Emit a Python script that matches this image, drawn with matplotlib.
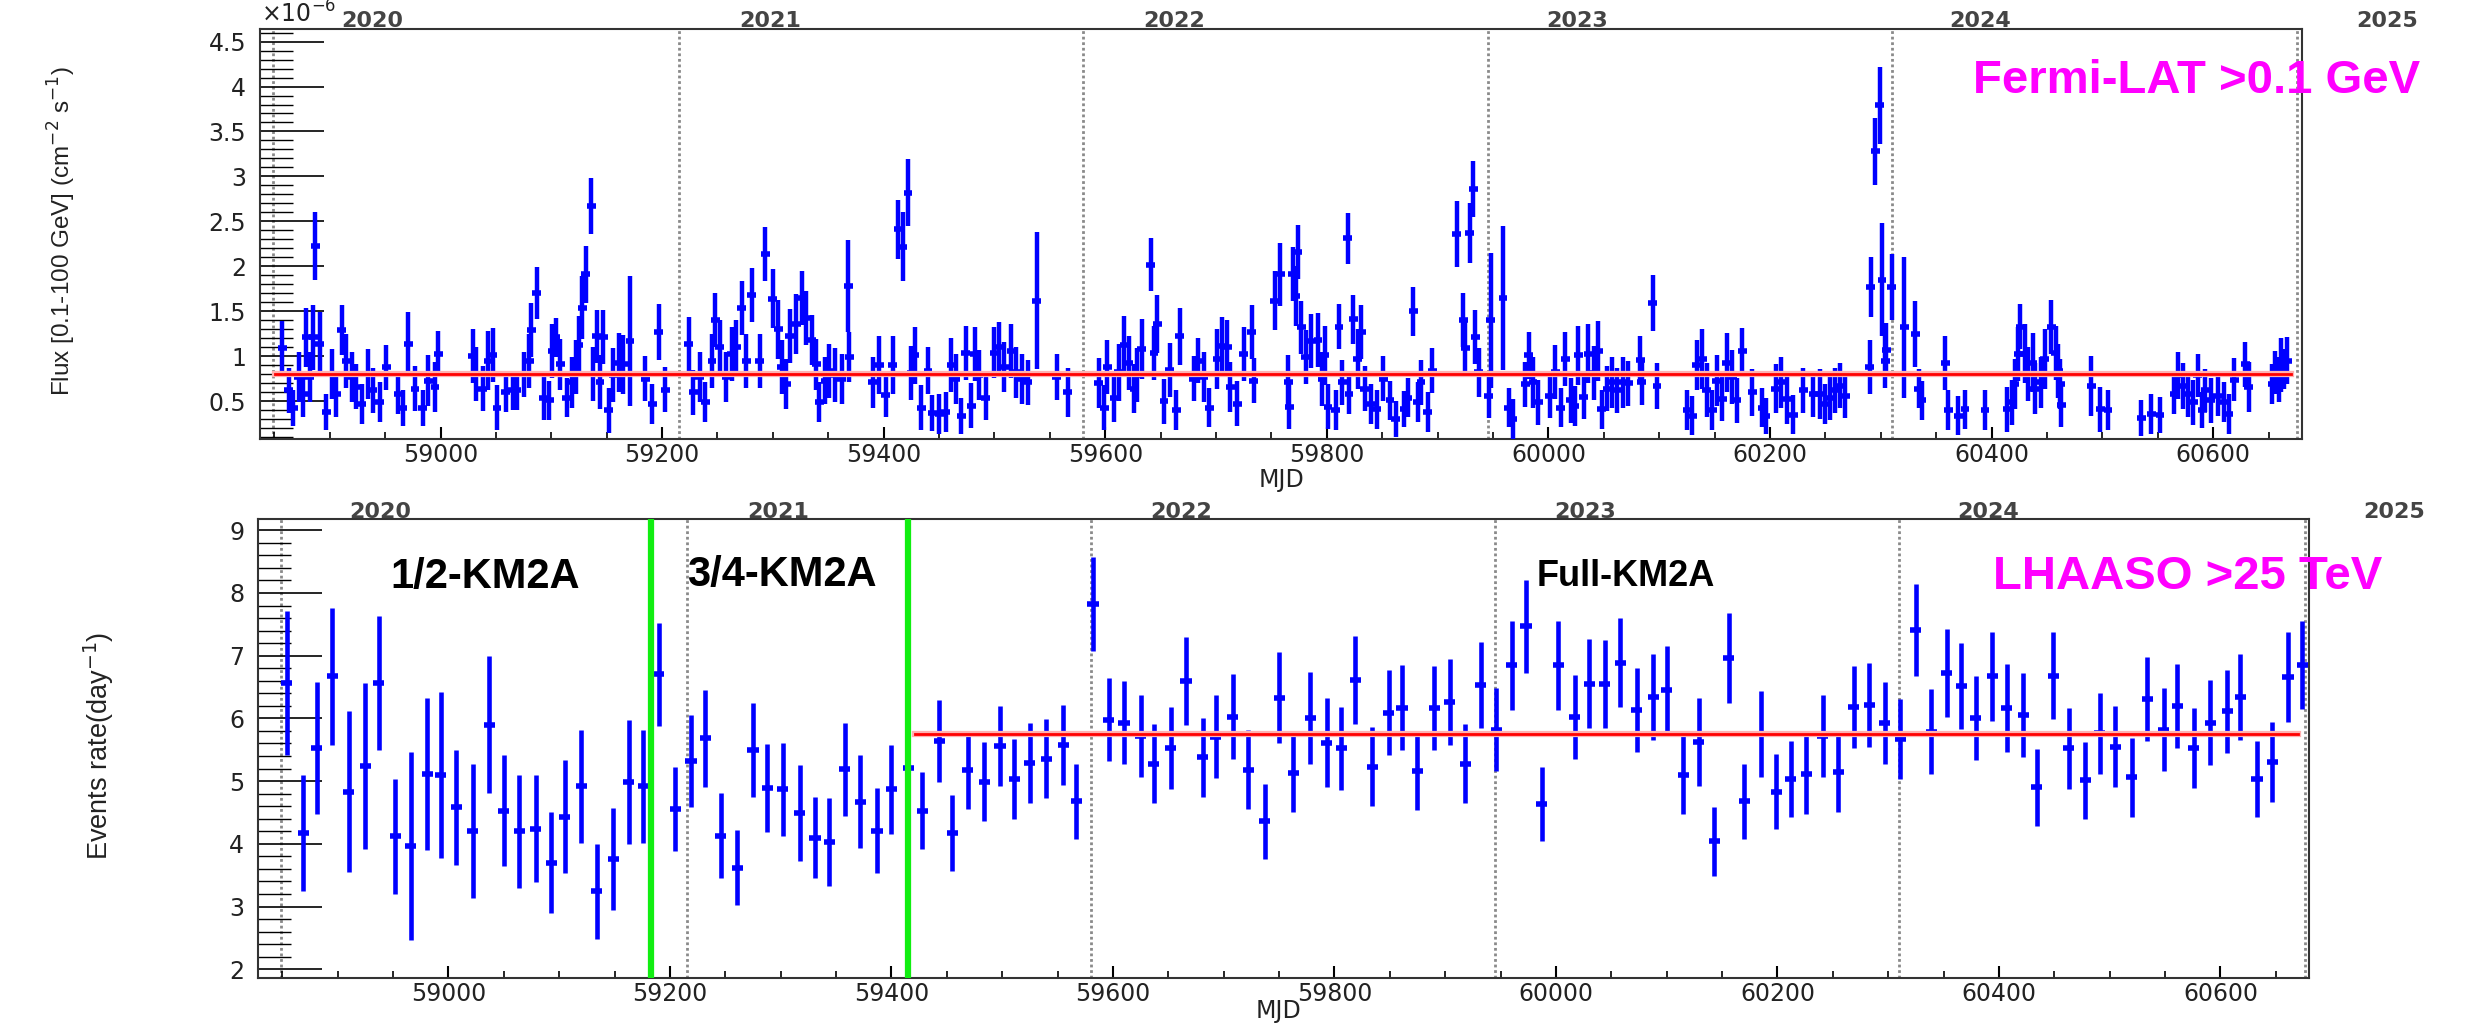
import matplotlib
matplotlib.use('Agg')
import matplotlib.pyplot as plt
from matplotlib.ticker import MultipleLocator, FuncFormatter

# ---- Fermi-LAT weekly light curve (flux in 1e-6 cm^-2 s^-1) ----
fermi_mjd = [58857, 58863, 58867, 58872, 58876, 58879, 58882, 58885, 58887, 58891,
             58897, 58902, 58906, 58911, 58915, 58920, 58924, 58929, 58935, 58939,
             58945, 58951, 58962, 58966, 58971, 58977, 58984, 58989, 58995, 58998,
             59029, 59032, 59038, 59043, 59047, 59051, 59059, 59065, 59069, 59075,
             59080, 59082, 59087, 59093, 59098, 59101, 59104, 59108, 59114, 59119,
             59122, 59125, 59128, 59131, 59136, 59138, 59141, 59144, 59147, 59152,
             59156, 59161, 59165, 59171, 59185, 59191, 59197, 59203, 59224, 59228,
             59234, 59239, 59245, 59248, 59252, 59258, 59263, 59267, 59272, 59276,
             59281, 59288, 59293, 59300, 59305, 59308, 59312, 59315, 59321, 59326,
             59330, 59335, 59339, 59342, 59347, 59351, 59356, 59362, 59368, 59369,
             59390, 59396, 59402, 59408, 59413, 59417, 59422, 59425, 59428, 59434,
             59440, 59444, 59450, 59456, 59461, 59465, 59470, 59474, 59479, 59482,
             59486, 59492, 59500, 59504, 59509, 59515, 59519, 59525, 59530, 59538,
             59556, 59566, 59594, 59599, 59602, 59608, 59612, 59617, 59621, 59626,
             59629, 59633, 59641, 59644, 59647, 59653, 59658, 59664, 59667, 59680,
             59684, 59689, 59694, 59701, 59705, 59710, 59713, 59719, 59725, 59732,
             59734, 59753, 59758, 59765, 59766, 59769, 59772, 59774, 59777, 59781,
             59786, 59792, 59796, 59798, 59801, 59808, 59811, 59814, 59819, 59820,
             59824, 59828, 59831, 59834, 59840, 59845, 59851, 59857, 59862, 59870,
             59873, 59878, 59882, 59885, 59891, 59895, 59917, 59923, 59925, 59929,
             59932, 59934, 59937, 59946, 59948, 59959, 59964, 59968, 59979, 59982,
             59986, 59991, 60001, 60006, 60011, 60015, 60020, 60024, 60027, 60032,
             60036, 60041, 60045, 60048, 60053, 60057, 60062, 60067, 60072, 60083,
             60084, 60094, 60098, 60125, 60130, 60134, 60139, 60143, 60148, 60152,
             60157, 60161, 60166, 60170, 60175, 60184, 60193, 60196, 60205, 60210,
             60215, 60221, 60230, 60239, 60245, 60250, 60254, 60259, 60263, 60268,
             60290, 60291, 60295, 60299, 60301, 60304, 60305, 60310, 60321, 60331,
             60334, 60337, 60358, 60361, 60370, 60376, 60394, 60414, 60418, 60421,
             60424, 60426, 60430, 60433, 60437, 60439, 60445, 60448, 60454, 60458,
             60460, 60462, 60463, 60490, 60498, 60505, 60535, 60544, 60552, 60565,
             60568, 60573, 60577, 60582, 60586, 60590, 60593, 60598, 60604, 60610,
             60614, 60619, 60629, 60632, 60653, 60656, 60659, 60661, 60664, 60667]
fermi_flux = [1.09, 0.62, 0.43, 0.77, 0.58, 1.21, 0.77, 1.21, 2.23, 1.14,
              0.38, 0.80, 0.58, 1.29, 0.95, 0.77, 0.66, 0.47, 0.80, 0.62,
              0.49, 0.88, 0.58, 0.43, 1.14, 0.64, 0.43, 0.73, 0.66, 1.03,
              1.00, 0.80, 0.64, 0.95, 1.01, 0.43, 0.60, 0.62, 0.62, 0.80,
              0.95, 1.29, 1.70, 0.54, 0.51, 1.06, 1.21, 0.91, 0.54, 0.71,
              0.88, 1.12, 1.54, 1.91, 2.67, 0.80, 1.22, 0.71, 1.21, 0.40,
              0.79, 0.93, 0.91, 1.17, 0.75, 0.47, 1.27, 0.63, 1.14, 0.60,
              0.77, 0.49, 0.95, 1.40, 1.10, 0.77, 1.03, 1.10, 1.54, 0.95,
              1.68, 0.95, 2.14, 1.64, 1.30, 0.88, 0.69, 1.23, 1.36, 1.65,
              1.43, 1.18, 0.91, 0.49, 0.73, 0.84, 0.79, 0.75, 1.78, 0.99,
              0.71, 0.90, 0.57, 0.90, 2.41, 2.22, 2.82, 0.81, 1.01, 0.43,
              0.84, 0.37, 0.36, 0.38, 0.90, 0.75, 0.34, 1.04, 0.45, 1.03,
              0.79, 0.54, 1.04, 1.10, 0.88, 1.06, 0.82, 0.75, 0.71, 1.62,
              0.77, 0.60, 0.70, 0.43, 0.88, 0.54, 0.82, 1.12, 0.93, 0.64,
              0.79, 1.08, 2.02, 1.04, 1.36, 0.50, 0.85, 0.40, 1.22, 0.75,
              0.95, 0.77, 0.43, 0.97, 1.11, 1.10, 0.66, 0.47, 1.03, 1.27,
              0.73, 1.62, 1.91, 0.71, 0.44, 1.91, 1.67, 2.16, 1.32, 0.99,
              1.17, 1.18, 0.75, 1.01, 0.44, 0.40, 1.33, 0.71, 2.31, 0.58,
              1.41, 0.97, 1.27, 0.64, 0.47, 0.41, 0.75, 0.51, 0.30, 0.41,
              0.54, 1.50, 0.49, 0.71, 0.38, 0.84, 2.36, 1.40, 1.09, 2.37,
              2.86, 1.21, 0.82, 0.56, 1.40, 1.65, 0.43, 0.30, 0.69, 1.01,
              0.71, 0.49, 0.56, 0.82, 0.43, 0.97, 0.51, 0.45, 1.01, 0.55,
              1.03, 0.81, 1.06, 0.41, 0.64, 0.71, 0.62, 0.71, 0.70, 0.96,
              0.71, 1.59, 0.67, 0.40, 0.34, 0.90, 0.97, 0.62, 0.40, 0.73,
              0.53, 0.93, 0.77, 0.51, 1.06, 0.60, 0.43, 0.34, 0.64, 0.71,
              0.53, 0.35, 0.62, 0.58, 0.58, 0.47, 0.54, 0.62, 0.67, 0.56,
              0.88, 1.77, 3.28, 3.79, 1.85, 0.95, 1.07, 1.77, 1.32, 1.25,
              0.64, 0.51, 0.93, 0.40, 0.34, 0.41, 0.40, 0.41, 0.49, 0.69,
              1.03, 1.33, 1.03, 0.80, 0.93, 0.64, 0.71, 0.97, 1.33, 1.04,
              0.84, 0.69, 0.46, 0.67, 0.41, 0.40, 0.31, 0.36, 0.35, 0.58,
              0.79, 0.67, 0.58, 0.49, 0.79, 0.40, 0.62, 0.51, 0.56, 0.49,
              0.36, 0.74, 0.91, 0.66, 0.69, 0.82, 0.74, 0.90, 0.86, 0.95]
fermi_err = [0.30, 0.25, 0.20, 0.28, 0.25, 0.33, 0.28, 0.36, 0.38, 0.35,
             0.20, 0.28, 0.25, 0.28, 0.30, 0.28, 0.25, 0.22, 0.28, 0.25,
             0.22, 0.25, 0.22, 0.20, 0.35, 0.25, 0.20, 0.28, 0.28, 0.25,
             0.30, 0.30, 0.25, 0.33, 0.30, 0.25, 0.22, 0.22, 0.22, 0.25,
             0.30, 0.30, 0.29, 0.25, 0.22, 0.30, 0.22, 0.28, 0.22, 0.28,
             0.30, 0.33, 0.35, 0.32, 0.31, 0.30, 0.30, 0.30, 0.30, 0.25,
             0.30, 0.33, 0.33, 0.72, 0.25, 0.22, 0.31, 0.25, 0.30, 0.25,
             0.28, 0.22, 0.30, 0.30, 0.30, 0.28, 0.30, 0.30, 0.30, 0.30,
             0.30, 0.30, 0.30, 0.33, 0.33, 0.30, 0.28, 0.30, 0.33, 0.30,
             0.30, 0.28, 0.28, 0.22, 0.26, 0.30, 0.30, 0.28, 0.51, 0.28,
             0.28, 0.32, 0.25, 0.32, 0.33, 0.38, 0.37, 0.30, 0.32, 0.25,
             0.26, 0.20, 0.22, 0.22, 0.30, 0.28, 0.20, 0.30, 0.25, 0.30,
             0.28, 0.25, 0.28, 0.28, 0.28, 0.30, 0.28, 0.28, 0.25, 0.76,
             0.26, 0.27, 0.28, 0.25, 0.30, 0.27, 0.32, 0.33, 0.30, 0.27,
             0.30, 0.33, 0.29, 0.30, 0.32, 0.25, 0.30, 0.22, 0.32, 0.25,
             0.25, 0.28, 0.22, 0.33, 0.33, 0.30, 0.28, 0.25, 0.30, 0.30,
             0.25, 0.33, 0.35, 0.30, 0.25, 0.30, 0.33, 0.30, 0.30, 0.30,
             0.30, 0.30, 0.30, 0.33, 0.25, 0.22, 0.25, 0.25, 0.28, 0.22,
             0.27, 0.33, 0.30, 0.25, 0.22, 0.22, 0.25, 0.22, 0.20, 0.20,
             0.22, 0.27, 0.22, 0.25, 0.22, 0.25, 0.37, 0.30, 0.30, 0.33,
             0.31, 0.30, 0.27, 0.25, 0.75, 0.80, 0.22, 0.22, 0.25, 0.26,
             0.28, 0.25, 0.25, 0.30, 0.22, 0.30, 0.25, 0.22, 0.33, 0.25,
             0.33, 0.30, 0.33, 0.22, 0.25, 0.28, 0.25, 0.28, 0.25, 0.27,
             0.25, 0.31, 0.26, 0.22, 0.22, 0.28, 0.33, 0.30, 0.22, 0.28,
             0.25, 0.33, 0.30, 0.25, 0.25, 0.26, 0.22, 0.20, 0.27, 0.28,
             0.28, 0.22, 0.25, 0.25, 0.28, 0.22, 0.25, 0.25, 0.25, 0.25,
             0.30, 0.33, 0.37, 0.43, 0.63, 0.30, 0.30, 0.37, 0.78, 0.37,
             0.22, 0.22, 0.30, 0.22, 0.22, 0.22, 0.22, 0.25, 0.25, 0.28,
             0.30, 0.25, 0.33, 0.30, 0.33, 0.28, 0.28, 0.33, 0.30, 0.30,
             0.30, 0.28, 0.25, 0.33, 0.25, 0.22, 0.20, 0.22, 0.20, 0.22,
             0.26, 0.26, 0.25, 0.25, 0.24, 0.20, 0.24, 0.25, 0.22, 0.22,
             0.22, 0.24, 0.25, 0.28, 0.22, 0.24, 0.25, 0.30, 0.22, 0.26]
fermi_mean = 0.80
fermi_fit_range = [58851, 60670]

# ---- LHAASO KM2A two-week light curve (events/day) ----
km2a_mjd = [58854, 58869, 58881, 58895, 58910, 58925, 58937, 58952, 58966, 58981,
            58993, 59007, 59022, 59037, 59050, 59064, 59079, 59093, 59105, 59120,
            59134, 59149, 59163, 59176, 59190, 59205, 59219, 59232, 59246, 59261,
            59275, 59288, 59302, 59317, 59331, 59344, 59358, 59372, 59387, 59400,
            59415, 59428, 59443, 59455, 59469, 59484, 59498, 59511, 59525, 59540,
            59555, 59567, 59582, 59596, 59610, 59625, 59637, 59652, 59666, 59681,
            59693, 59708, 59722, 59737, 59750, 59763, 59778, 59793, 59806, 59819,
            59834, 59849, 59861, 59875, 59890, 59904, 59918, 59932, 59946, 59960,
            59973, 59987, 60002, 60017, 60030, 60044, 60058, 60073, 60088, 60100,
            60115, 60129, 60143, 60156, 60170, 60185, 60199, 60212, 60226, 60241,
            60255, 60269, 60283, 60297, 60311, 60325, 60339, 60353, 60366, 60379,
            60394, 60407, 60422, 60434, 60449, 60463, 60478, 60491, 60505, 60520,
            60534, 60549, 60561, 60576, 60591, 60606, 60618, 60633, 60647, 60661,
            60674]
km2a_rate = [6.57, 4.17, 5.53, 6.67, 4.83, 5.24, 6.57, 4.12, 3.97, 5.11,
             5.10, 4.58, 4.20, 5.90, 4.53, 4.20, 4.24, 3.70, 4.43, 4.92,
             3.24, 3.76, 4.99, 4.92, 6.70, 4.56, 5.32, 5.68, 4.13, 3.62,
             5.49, 4.89, 4.87, 4.49, 4.10, 4.03, 5.19, 4.67, 4.21, 4.87,
             5.21, 4.53, 5.64, 4.17, 5.18, 4.99, 5.56, 5.03, 5.29, 5.36,
             5.58, 4.68, 7.82, 5.98, 5.93, 5.72, 5.28, 5.53, 6.59, 5.38,
             5.71, 6.03, 5.18, 4.36, 6.33, 5.13, 6.01, 5.61, 5.52, 6.61,
             5.23, 6.09, 6.17, 5.16, 6.17, 6.26, 5.28, 6.53, 5.82, 6.85,
             7.47, 4.64, 6.85, 6.02, 6.55, 6.55, 6.89, 6.14, 6.34, 6.45,
             5.10, 5.62, 4.04, 6.96, 4.68, 5.75, 4.83, 5.03, 5.11, 5.72,
             5.15, 6.18, 6.21, 5.93, 5.67, 7.41, 5.79, 6.72, 6.52, 6.00,
             6.67, 6.17, 6.06, 4.90, 6.68, 5.52, 5.01, 5.76, 5.55, 5.06,
             6.31, 5.82, 6.20, 5.53, 5.93, 6.11, 6.34, 5.03, 5.31, 6.66,
             6.85]
km2a_err = [1.15, 0.93, 1.05, 1.09, 1.28, 1.32, 1.07, 0.92, 1.50, 1.21,
            1.32, 0.92, 1.07, 1.09, 0.88, 0.90, 0.85, 0.80, 0.90, 0.90,
            0.76, 0.81, 0.99, 0.90, 0.82, 0.67, 0.73, 0.78, 0.68, 0.60,
            0.75, 0.70, 0.74, 0.76, 0.64, 0.70, 0.74, 0.74, 0.68, 0.71,
            0.65, 0.61, 0.65, 0.61, 0.62, 0.63, 0.64, 0.64, 0.64, 0.63,
            0.64, 0.60, 0.75, 0.66, 0.66, 0.65, 0.63, 0.65, 0.70, 0.63,
            0.66, 0.67, 0.63, 0.60, 0.73, 0.63, 0.73, 0.71, 0.66, 0.70,
            0.63, 0.68, 0.68, 0.62, 0.67, 0.68, 0.63, 0.69, 0.66, 0.71,
            0.74, 0.59, 0.71, 0.67, 0.71, 0.70, 0.71, 0.67, 0.69, 0.71,
            0.63, 0.70, 0.55, 0.72, 0.60, 0.69, 0.60, 0.61, 0.63, 0.65,
            0.64, 0.66, 0.67, 0.65, 0.64, 0.73, 0.68, 0.70, 0.69, 0.67,
            0.71, 0.70, 0.67, 0.61, 0.69, 0.64, 0.61, 0.65, 0.65, 0.63,
            0.67, 0.66, 0.67, 0.64, 0.68, 0.66, 0.68, 0.61, 0.64, 0.72,
            0.70]
km2a_mean = 5.75
km2a_fit_range = [59421, 60670]
km2a_phase_edges = [59183, 59415]

year_starts = [58849, 59215, 59580, 59945, 60310, 60676]
year_names = ['2020', '2021', '2022', '2023', '2024', '2025']
year_label_mjd = [58938, 59298, 59662, 60026, 60390, 60757]

BLUE = '#0000ff'
fig = plt.figure(figsize=(24.73, 10.24), dpi=100)
ax1 = fig.add_axes([0.1051, 0.5713, 0.8257, 0.4004])
ax2 = fig.add_axes([0.1043, 0.0449, 0.8294, 0.4483])

def root_style(ax, ymajor, yminor):
    ax.xaxis.set_major_locator(MultipleLocator(200))
    ax.xaxis.set_minor_locator(MultipleLocator(50))
    ax.yaxis.set_major_locator(MultipleLocator(ymajor))
    ax.yaxis.set_minor_locator(MultipleLocator(yminor))
    ax.yaxis.set_major_formatter(FuncFormatter(lambda v, p: '%g' % v))
    ax.tick_params(axis='y', which='major', direction='in', length=46, width=1.2,
                   labelsize=17, pad=10, labelcolor='#222222', right=False)
    ax.tick_params(axis='y', which='minor', direction='in', length=24, width=1.0,
                   right=False)
    ax.tick_params(axis='x', which='major', direction='in', length=9, width=1.5,
                   labelsize=17, pad=3, labelcolor='#222222', top=False)
    ax.tick_params(axis='x', which='minor', direction='in', length=5, width=1.2,
                   top=False)
    for s in ax.spines.values():
        s.set_linewidth(1.5)
        s.set_color('#333333')
    for m in year_starts:
        ax.axvline(m, color='#8a8a8a', lw=2.0, ls=(0, (1, 1)), zorder=1)
    for m, name in zip(year_label_mjd, year_names):
        ax.text(m, 0.994, name, transform=ax.get_xaxis_transform(), ha='center',
                va='bottom', fontsize=16, fontweight='bold', color='#444444',
                clip_on=False)

# ---- top panel: Fermi-LAT ----
ax1.errorbar(fermi_mjd, fermi_flux, yerr=fermi_err, fmt='none', ecolor=BLUE,
             elinewidth=3.2, capsize=0, zorder=3)
ax1.hlines(fermi_flux, [m - 4 for m in fermi_mjd], [m + 4 for m in fermi_mjd],
           color=BLUE, lw=4.0, zorder=3)
ax1.plot(fermi_fit_range, [fermi_mean] * 2, color='#ffb0b0', lw=4.5, zorder=4)
ax1.plot(fermi_fit_range, [fermi_mean] * 2, color='#ff0000', lw=2.0, zorder=5)
ax1.set_xlim(58837, 60680)
ax1.set_ylim(0.08, 4.64)
root_style(ax1, 0.5, 0.1)
ax1.text(0.0005, 1.003, r'$\times$10$^{-6}$', transform=ax1.transAxes,
         ha='left', va='bottom', fontsize=17, color='#222222')

# ---- bottom panel: LHAASO KM2A ----
ax2.errorbar(km2a_mjd, km2a_rate, yerr=km2a_err, fmt='none', ecolor=BLUE,
             elinewidth=3.3, capsize=0, zorder=3)
ax2.hlines(km2a_rate, [m - 5 for m in km2a_mjd], [m + 5 for m in km2a_mjd],
           color=BLUE, lw=4.0, zorder=3)
ax2.plot(km2a_fit_range, [km2a_mean] * 2, color='#ffb0b0', lw=4.5, zorder=4)
ax2.plot(km2a_fit_range, [km2a_mean] * 2, color='#ff0000', lw=2.0, zorder=5)
for m in km2a_phase_edges:
    ax2.axvline(m, color='#11ee11', lw=4.5, zorder=6)
ax2.set_xlim(58828, 60680)
ax2.set_ylim(1.86, 9.18)
root_style(ax2, 1, 0.2)

# axis titles
fig.text(0.518, 0.531, 'MJD', ha='center', va='center', fontsize=17, color='#222222')
fig.text(0.517, 0.001, 'MJD', ha='center', va='bottom', fontsize=17, color='#222222')

ylab = dict(rotation=90, ha='center', va='center', color='#222222',
            family=['Liberation Sans', 'DejaVu Sans'])
fig.text(0.025, 0.774, r'Flux [0.1-100 GeV] (cm$^{-2}$ s$^{-1}$)', fontsize=17.5, **ylab)
fig.text(0.040, 0.272, r'Events rate(day$^{-1}$)', fontsize=19.5, **ylab)

# annotations
lab = dict(fontweight='bold', color='black', family=['Liberation Sans', 'DejaVu Sans'])
fig.text(0.158, 0.426, '1/2-KM2A', fontsize=30, **lab)
fig.text(0.278, 0.428, '3/4-KM2A', fontsize=30, **lab)
fig.text(0.6215, 0.428, 'Full-KM2A', fontsize=26, **lab)
mag = dict(fontsize=34, fontweight='bold', color='#ff00ff',
           family=['Liberation Sans', 'DejaVu Sans'])
fig.text(0.798, 0.909, 'Fermi-LAT >0.1 GeV', **mag)
fig.text(0.806, 0.425, 'LHAASO >25 TeV', **mag)

fig.savefig('out.png', dpi=100)
